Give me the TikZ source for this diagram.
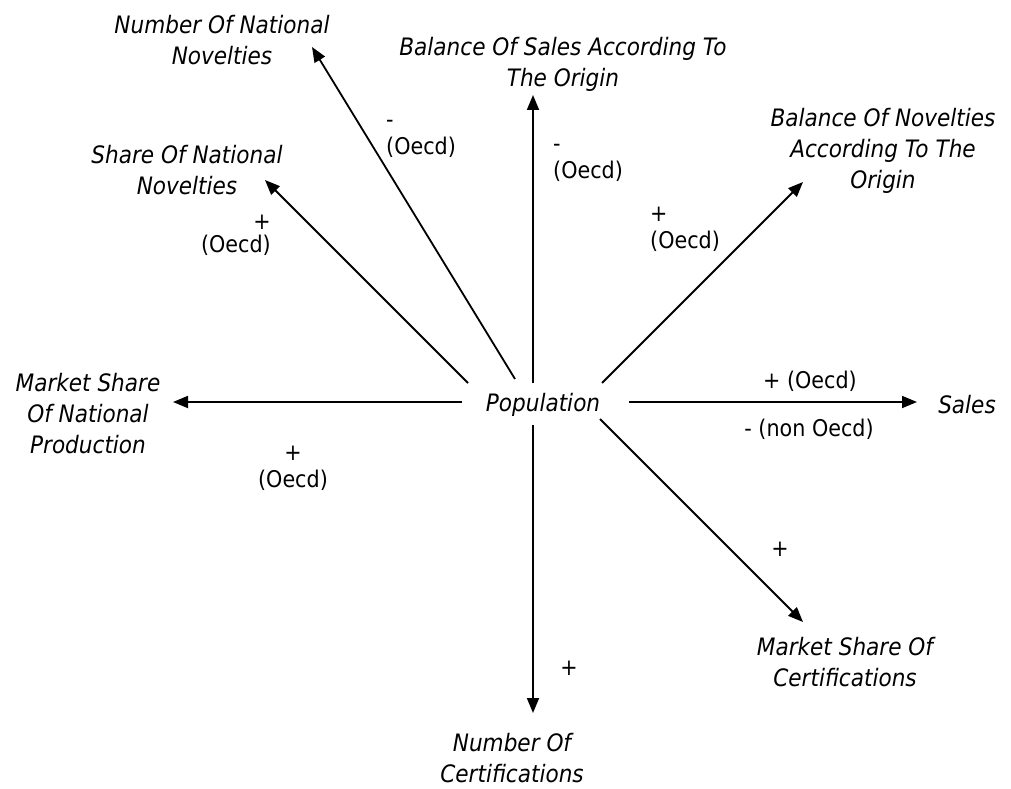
\documentclass[tikz,border=0pt]{standalone}
\usepackage{fontspec}
\usetikzlibrary{arrows.meta}
\newfontfamily\diagfont[FakeStretch=0.9]{DejaVu Sans}
\begin{document}
\begin{tikzpicture}[x=1pt,y=-1pt,
  var/.style={font=\diagfont\itshape\fontsize{24}{31}\selectfont, align=center, inner sep=0pt},
  sign/.style={font=\diagfont\fontsize{23}{27}\selectfont, inner sep=0pt},
  link/.style={line width=1.8pt, -{Triangle[length=15pt,width=12pt]}}]
\useasboundingbox (0,0) rectangle (1011,789);

% variables
\node[var] (pop)   at (543,405) {Population};
\node[var] (nnn)   at (222,40)  {Number Of National\\Novelties};
\node[var] (snn)   at (187,170) {Share Of National\\Novelties};
\node[var] (bos)   at (563,64)  {Balance Of Sales According To\\The Origin};
\node[var] (bon)   at (883,151) {Balance Of Novelties\\According To The\\Origin};
\node[var] (sales) at (967,405) {Sales};
\node[var] (msnp)  at (88,414)  {Market Share\\Of National\\Production};
\node[var] (msc)   at (845,662) {Market Share Of\\Certifications};
\node[var] (noc)   at (512,758) {Number Of\\Certifications};

% end points of the links around the central variable and at the targets
\coordinate (s-nnn)   at (515,379); \coordinate (t-nnn)   at (312,47);
\coordinate (s-snn)   at (468,383); \coordinate (t-snn)   at (265,180);
\coordinate (s-bos)   at (533,383); \coordinate (t-bos)   at (533,95);
\coordinate (s-bon)   at (602,383); \coordinate (t-bon)   at (803,182);
\coordinate (s-sales) at (629,402); \coordinate (t-sales) at (917,402);
\coordinate (s-msnp)  at (462,402); \coordinate (t-msnp)  at (173,402);
\coordinate (s-msc)   at (600,419); \coordinate (t-msc)   at (803,622);
\coordinate (s-noc)   at (533,425); \coordinate (t-noc)   at (533,713);

% links
\draw[link] (s-nnn) -- (t-nnn);
\draw[link] (s-snn) -- (t-snn);
\draw[link] (s-bos) -- (t-bos);
\draw[link] (s-bon) -- (t-bon);
\draw[link] (s-sales) -- (t-sales);
\draw[link] (s-msnp) -- (t-msnp);
\draw[link] (s-msc) -- (t-msc);
\draw[link] (s-noc) -- (t-noc);

% polarities
\node[sign, align=left,   anchor=west] (l-nnn)  at (386,139) {-\\(Oecd)};
\node[sign, align=right,  anchor=east] (l-snn)  at (271,235) {+\\[-4pt](Oecd)};
\node[sign, align=left,   anchor=west] (l-bos)  at (553,163) {-\\(Oecd)};
\node[sign, align=left,   anchor=west] (l-bon)  at (650,229) {+\\(Oecd)};
\node[sign] (l-sales1) at (810,381) {+ (Oecd)};
\node[sign] (l-sales2) at (809,429) {- (non Oecd)};
\node[sign, align=center] (l-msnp) at (293,468) {+\\(Oecd)};
\node[sign] (l-msc) at (780,549) {+};
\node[sign] (l-noc) at (569,668) {+};
\end{tikzpicture}
\end{document}
